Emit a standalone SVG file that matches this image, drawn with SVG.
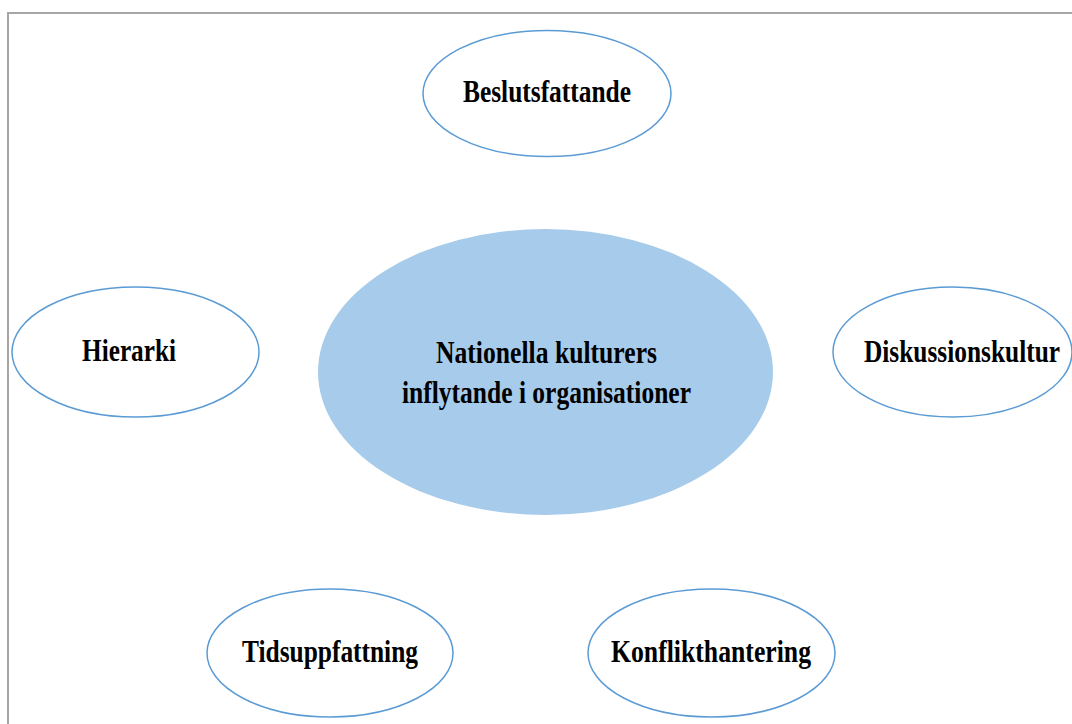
<svg xmlns="http://www.w3.org/2000/svg" width="1072" height="724" viewBox="0 0 1072 724">
<style>
.frame{fill:none;stroke:#a6a6a6;stroke-width:2}
.outer{fill:#ffffff;stroke:#5b9bd5;stroke-width:1.5}
.center{fill:#a7cbea;stroke:none}
.lbl{font-family:"Liberation Serif","Times New Roman",serif;font-weight:bold;font-size:32px;fill:#000}
</style>
<rect width="1072" height="724" fill="#ffffff"/>
<rect class="frame" x="8" y="13" width="1200" height="900"/>
<g id="connectors"></g>
<g id="center-node">
<ellipse class="center" cx="545.5" cy="372" rx="227.5" ry="143"/>
<text class="lbl" x="436" y="363" textLength="221" lengthAdjust="spacingAndGlyphs">Nationella kulturers</text>
<text class="lbl" x="402" y="403" textLength="289" lengthAdjust="spacingAndGlyphs">inflytande i organisationer</text>
</g>
<g id="beslutsfattande">
<ellipse class="outer" cx="547" cy="93.5" rx="124" ry="63"/>
<text class="lbl" x="463" y="102" textLength="168" lengthAdjust="spacingAndGlyphs">Beslutsfattande</text>
</g>
<g id="hierarki">
<ellipse class="outer" cx="135.5" cy="352" rx="123.5" ry="65"/>
<text class="lbl" x="82" y="361" textLength="94" lengthAdjust="spacingAndGlyphs">Hierarki</text>
</g>
<g id="diskussionskultur">
<ellipse class="outer" cx="952.5" cy="352" rx="119.5" ry="65"/>
<text class="lbl" x="864" y="362" textLength="196" lengthAdjust="spacingAndGlyphs">Diskussionskultur</text>
</g>
<g id="tidsuppfattning">
<ellipse class="outer" cx="330" cy="653" rx="123" ry="64"/>
<text class="lbl" x="242" y="662" textLength="176" lengthAdjust="spacingAndGlyphs">Tidsuppfattning</text>
</g>
<g id="konflikthantering">
<ellipse class="outer" cx="711.5" cy="653" rx="123.5" ry="64"/>
<text class="lbl" x="611" y="662" textLength="200" lengthAdjust="spacingAndGlyphs">Konflikthantering</text>
</g>
</svg>
